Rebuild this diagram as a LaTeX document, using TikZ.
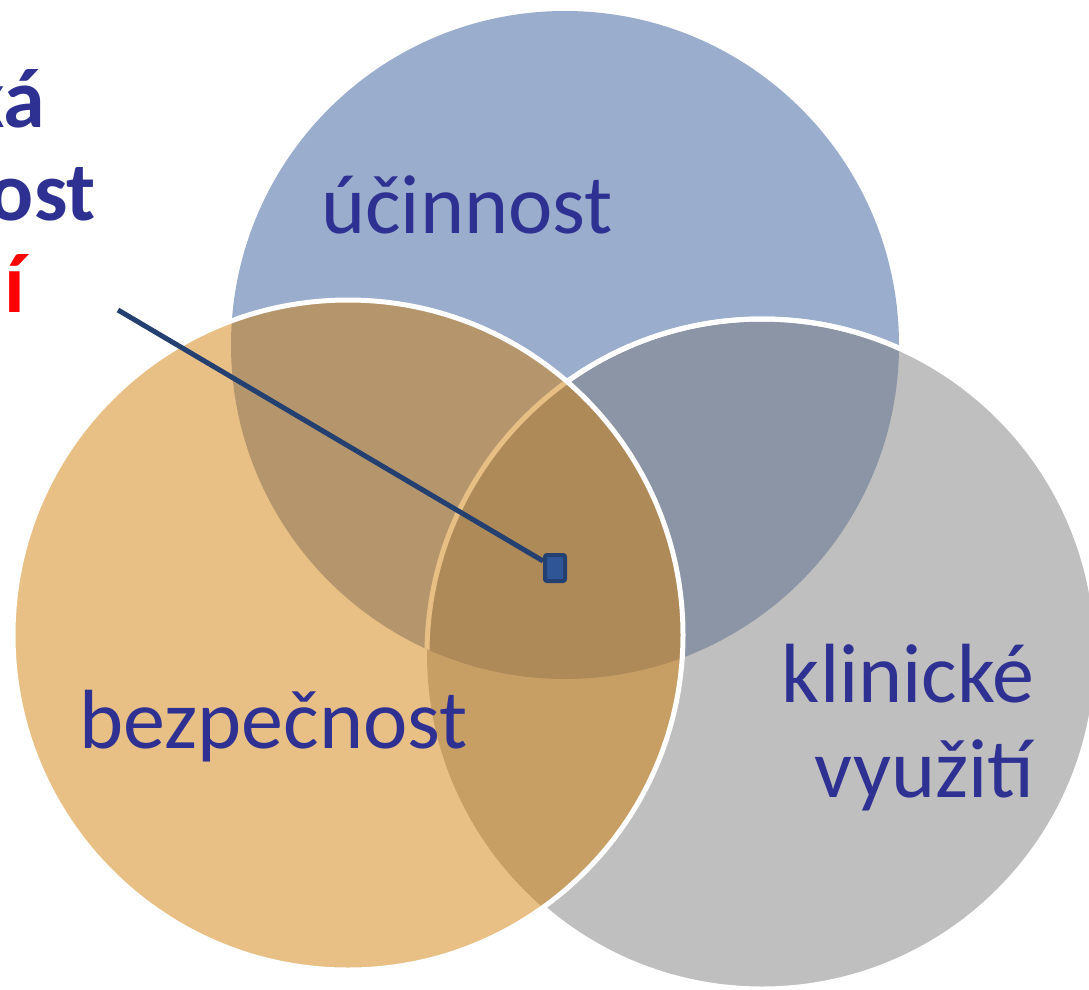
\documentclass[tikz,border=0pt]{standalone}
\usepackage{fontspec}
\setmainfont{Carlito}
\definecolor{txtblue}{RGB}{46,49,146}
\definecolor{txtred}{RGB}{255,0,0}
\definecolor{cblue}{RGB}{154,173,205}
\definecolor{cgray}{RGB}{127,127,127}
\definecolor{corange}{RGB}{209,129,13}
\definecolor{lineblue}{RGB}{35,64,112}
\definecolor{sqfill}{RGB}{47,85,151}
\begin{document}
\begin{tikzpicture}[x=1pt,y=-1pt,
  lbl/.style={font=\fontsize{84}{90}\selectfont, text=txtblue, inner sep=0pt},
  bold lbl/.style={font=\fontsize{84}{90}\selectfont\bfseries, text=txtblue, inner sep=0pt},
  whiteline/.style={draw=white, line width=5},
  marker/.style={draw=lineblue, fill=sqfill, line width=4, minimum width=20, minimum height=26, inner sep=0pt, rounded corners=2},
  leader/.style={draw=lineblue, line width=5}]
\useasboundingbox (0,0) rectangle (1089,990);
\clip (0,0) rectangle (1089,990);
% blue circle
\fill[cblue] (565,345) circle[radius=334];
% gray circle
\fill[cgray, fill opacity=0.5] (762,654) circle[radius=335];
\begin{scope}[even odd rule]
  \clip (-10,-10) rectangle (1100,1000) (348,635) circle[radius=335];
  \draw[whiteline] (762,654) circle[radius=335];
\end{scope}
\begin{scope}
  \clip (565,345) circle[radius=334];
  \draw[whiteline] (762,654) circle[radius=335];
\end{scope}
% orange circle
\fill[corange, fill opacity=0.5] (348,635) circle[radius=335];
\draw[whiteline] (348,635) circle[radius=335];
% labels
\node[lbl, anchor=base west] (ucin) at (321,233) {účinnost};
\node[lbl, anchor=base west] (bezp) at (79,748) {bezpečnost};
\node[lbl, anchor=base east] (klin) at (1035,702) {klinické};
\node[lbl, anchor=base east] (vyuz) at (1035,797) {využití};
% cut-off title text (clipped at the left edge, as in the reference)
\node[bold lbl, anchor=base east] (t1) at (45,127) {ká};
\node[bold lbl, anchor=base east] (t2) at (96,220) {ost};
\node[bold lbl, text=txtred, anchor=base east] (t3) at (25,312) {í};
% leader line and marker
\node[marker] (sq) at (555,568) {};
\coordinate (ls) at (118,310);
\draw[leader] (ls) -- (sq);
\end{tikzpicture}
\end{document}
